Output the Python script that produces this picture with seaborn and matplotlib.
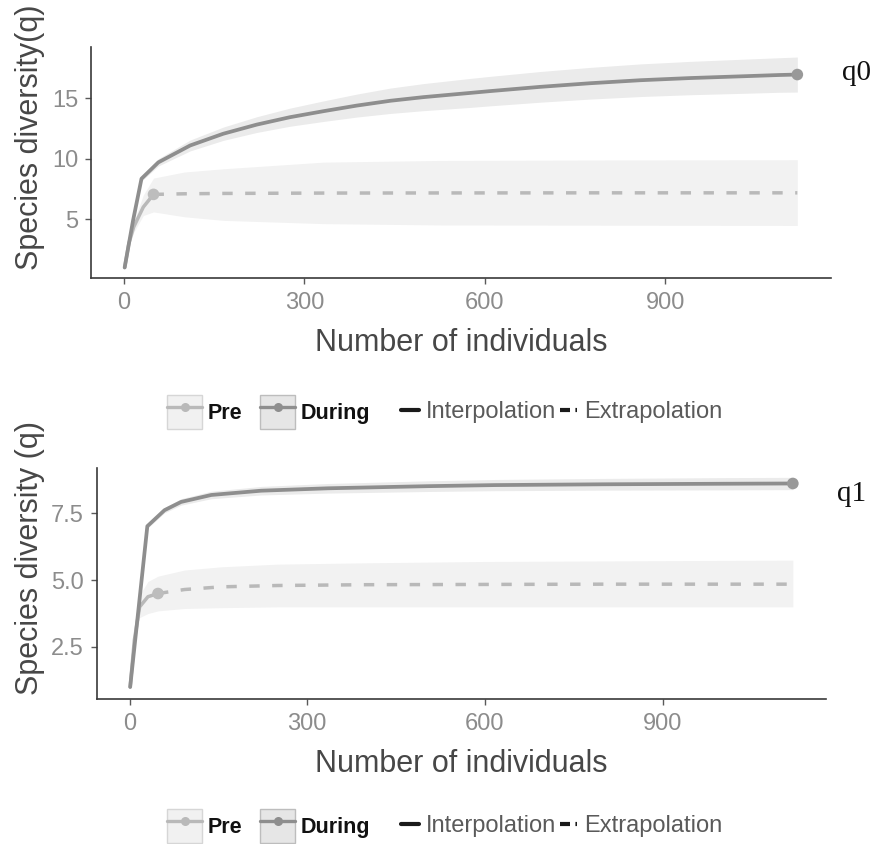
import numpy as np
import pandas as pd
import matplotlib
matplotlib.use("Agg")
import matplotlib.pyplot as plt
from matplotlib.lines import Line2D
from matplotlib.patches import Patch
import seaborn as sns

# ---------------- data ----------------
# q0 panel
q0_dur_x  = [1, 15, 29, 57, 110, 165, 221, 276, 332, 387, 443, 498, 576, 609, 692, 775, 859, 942, 1025, 1089, 1120]
q0_dur_y  = [1, 4.9, 8.35, 9.7, 11.1, 12.07, 12.83, 13.44, 13.94, 14.4, 14.8, 15.1, 15.45, 15.6, 15.95, 16.25, 16.5, 16.68, 16.82, 16.93, 16.97]
q0_dur_ci = [0, 0.1, 0.2, 0.3, 0.45, 0.55, 0.65, 0.75, 0.85, 0.95, 1.05, 1.12, 1.2, 1.22, 1.27, 1.31, 1.35, 1.38, 1.41, 1.43, 1.45]
q0_dur_obs = 1120

q0_pre_x  = [1, 8, 16, 32, 49, 100, 165, 332, 526, 800, 1120]
q0_pre_y  = [1, 3.0, 4.35, 6.0, 7.05, 7.1, 7.13, 7.16, 7.17, 7.18, 7.18]
q0_pre_lo = [1, 2.8, 3.9, 5.3, 5.6, 5.2, 4.9, 4.63, 4.52, 4.5, 4.48]
q0_pre_hi = [1, 3.2, 4.8, 7.0, 8.4, 8.9, 9.17, 9.72, 9.86, 9.9, 9.92]
q0_pre_obs = 49

# q1 panel
q1_dur_x  = [1, 15, 30, 59, 87, 138, 222, 335, 504, 617, 800, 1000, 1120]
q1_dur_y  = [1, 3.9, 7.02, 7.62, 7.93, 8.19, 8.35, 8.44, 8.52, 8.56, 8.59, 8.61, 8.62]
q1_dur_ci = [0, 0.04, 0.08, 0.1, 0.12, 0.14, 0.16, 0.18, 0.2, 0.21, 0.22, 0.23, 0.23]
q1_dur_obs = 1120

q1_pre_x  = [1, 8, 17, 31, 48, 93, 155, 250, 400, 600, 800, 1000, 1120]
q1_pre_y  = [1, 2.75, 4.0, 4.38, 4.5, 4.65, 4.75, 4.8, 4.83, 4.84, 4.85, 4.85, 4.85]
q1_pre_lo = [1, 2.5, 3.6, 3.75, 3.85, 3.94, 3.97, 4.0, 4.0, 4.0, 4.0, 4.0, 4.0]
q1_pre_hi = [1, 3.0, 4.45, 4.95, 5.15, 5.38, 5.5, 5.6, 5.65, 5.7, 5.72, 5.74, 5.75]
q1_pre_obs = 48

x_ticks = [0, 300, 600, 900]
q0_yticks = [5, 10, 15]
q1_yticks = [2.5, 5.0, 7.5]
groups = ["Pre", "During"]
methods = ["Interpolation", "Extrapolation"]

# ---------------- style ----------------
sns.set_style("ticks")
plt.rcParams["font.family"] = ["Liberation Sans", "DejaVu Sans"]

DUR_LINE = "#8e8e8e"
PRE_LINE = "#b9b9b9"
DUR_BAND = "#ebebeb"
PRE_BAND = "#f2f2f2"
DUR_PT = "#999999"
PRE_PT = "#bdbdbd"
AX_COL = "#3a3a3a"
TICK_LAB = "#8c8c8c"
TITLE_COL = "#474747"

fig = plt.figure(figsize=(8.79, 8.44), dpi=100)
ax_top = fig.add_axes([91 / 879, (844 - 278) / 844, 740 / 879, 231 / 844])
ax_bot = fig.add_axes([97 / 879, (844 - 699) / 844, 729 / 879, 231 / 844])


def draw_panel(ax, dx, dy, dci, dobs, px, py, plo, phi, pobs, ylim, yticks, yfmt,
               ylabel, qlab, qy):
    dx = np.array(dx); dy = np.array(dy); dci = np.array(dci)
    ax.fill_between(px, plo, phi, color=PRE_BAND, lw=0, zorder=1)
    ax.fill_between(dx, dy - dci, dy + dci, color=DUR_BAND, lw=0, zorder=1.5)

    pre = pd.DataFrame({"x": px, "y": py})
    interp = pre[pre.x <= pobs]
    extrap = pre[pre.x >= pobs]
    sns.lineplot(data=interp, x="x", y="y", color=PRE_LINE, lw=2.5, ax=ax, zorder=3)
    sns.lineplot(data=extrap, x="x", y="y", color=PRE_LINE, lw=2.5, ax=ax, zorder=3)
    ax.lines[-1].set_dashes([3.0, 3.6])
    ax.lines[-1].set_dash_capstyle("butt")

    dur = pd.DataFrame({"x": dx, "y": dy})
    sns.lineplot(data=dur[dur.x <= dobs], x="x", y="y", color=DUR_LINE, lw=2.7, ax=ax, zorder=4)

    pts = pd.DataFrame({"x": [pobs, dobs],
                        "y": [py[px.index(pobs)], dy[list(dx).index(dobs)]],
                        "g": groups})
    sns.scatterplot(data=pts, x="x", y="y", hue="g", palette=[PRE_PT, DUR_PT],
                    s=70, edgecolor="none", legend=False, ax=ax, zorder=5)

    ax.set_xlim(-55, 1176)
    ax.set_ylim(*ylim)
    ax.set_xticks(x_ticks)
    ax.set_xticklabels([str(t) for t in x_ticks])
    ax.set_yticks(yticks)
    ax.set_yticklabels([yfmt.format(t) for t in yticks])
    sns.despine(ax=ax)
    for s in ("left", "bottom"):
        ax.spines[s].set_color(AX_COL)
        ax.spines[s].set_linewidth(1.2)
    ax.tick_params(axis="both", length=4.3, width=1.0, color="#5a5a5a",
                   labelsize=17, labelcolor=TICK_LAB)
    ax.tick_params(axis="x", pad=6)
    ax.tick_params(axis="y", pad=5)
    ax.set_xlabel("Number of individuals", fontsize=22, color=TITLE_COL)
    ax.set_ylabel(ylabel, fontsize=22, color=TITLE_COL)
    ax.xaxis.set_label_coords(0.5, -0.215)
    ax.set_facecolor("white")
    ax.grid(False)
    ax.text(1.035, qy, qlab, transform=ax.get_yaxis_transform(), ha="center",
            va="baseline", fontsize=21, family=["Liberation Serif", "DejaVu Serif"],
            color="#111111", clip_on=False)


draw_panel(ax_top, q0_dur_x, q0_dur_y, q0_dur_ci, q0_dur_obs,
           q0_pre_x, q0_pre_y, q0_pre_lo, q0_pre_hi, q0_pre_obs,
           (0.13, 19.25), q0_yticks, "{:g}", "Species diversity(q)", "q0", 16.55)
ax_top.yaxis.set_label_coords((45 - 91) / 740, 0.61)

draw_panel(ax_bot, q1_dur_x, q1_dur_y, q1_dur_ci, q1_dur_obs,
           q1_pre_x, q1_pre_y, q1_pre_lo, q1_pre_hi, q1_pre_obs,
           (0.55, 9.2), q1_yticks, "{:.1f}", "Species diversity (q)", "q1", 7.95)
ax_bot.yaxis.set_label_coords((45 - 97) / 729, 0.61)


def add_legends(yc):
    h1 = [(Patch(facecolor="#f1f1f1", edgecolor="#d6d6d6", lw=1.0),
           Line2D([], [], color=PRE_LINE, lw=2.4, marker="o", ms=6.5, mec="none")),
          (Patch(facecolor="#e6e6e6", edgecolor="#bdbdbd", lw=1.0),
           Line2D([], [], color=DUR_LINE, lw=2.4, marker="o", ms=6.5, mec="none"))]
    lg1 = fig.legend(h1, groups, loc="center left", bbox_to_anchor=(167 / 879, yc),
                     ncol=2, frameon=False, borderpad=0, borderaxespad=0,
                     handlelength=1.63, handleheight=2.05, handletextpad=0.25,
                     columnspacing=0.84, prop={"size": 15.5, "weight": "bold"})
    for t in lg1.get_texts():
        t.set_color("#111111")
    h2 = [Line2D([], [], color="#1a1a1a", lw=3.0),
          Line2D([], [], color="#1a1a1a", lw=3.0, dashes=[2.4, 1.3, 0.4, 4])]
    lg2 = fig.legend(h2, methods, loc="center left", bbox_to_anchor=(401 / 879, yc),
                     ncol=2, frameon=False, borderpad=0, borderaxespad=0,
                     handlelength=0.75, handletextpad=0.3, columnspacing=0.15,
                     prop={"size": 17})
    for t in lg2.get_texts():
        t.set_color("#5a5a5a")


add_legends((844 - 412) / 844)
add_legends((844 - 826) / 844)

fig.savefig("out.png", dpi=100, facecolor="white")
